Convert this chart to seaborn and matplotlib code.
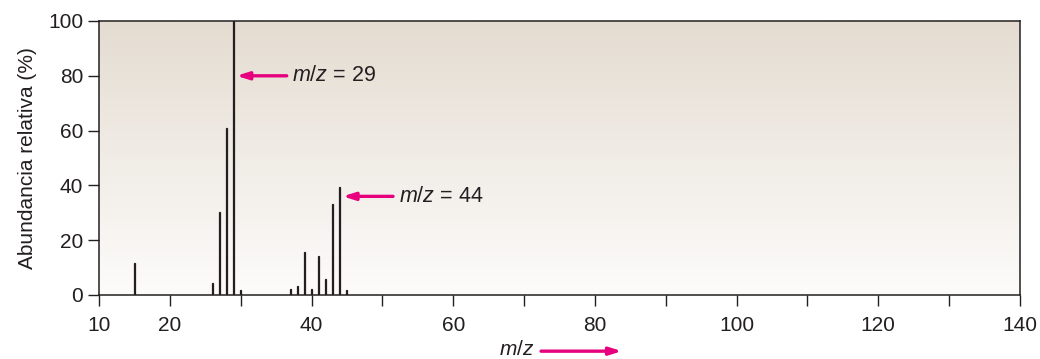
import numpy as np
import matplotlib
matplotlib.use("Agg")
import matplotlib.pyplot as plt
import seaborn as sns

# espectro de masas: m/z y abundancia relativa (%)
mz = [15, 26, 27, 28, 29, 30, 37, 38, 39, 40, 41, 42, 43, 44, 45]
abundance = [11.8, 4.5, 30.3, 60.8, 100, 1.8, 2.1, 3.3, 15.6, 2.1, 14.4, 5.7, 33.1, 39.5, 1.8]

major_ticks = [10, 20, 40, 60, 80, 100, 120, 140]
minor_ticks = [30, 50, 70, 90, 110, 130]
y_ticks = [0, 20, 40, 60, 80, 100]

# picos señalados con flecha: (m/z, altura de la flecha)
callouts = [(29, 80), (44, 36)]

ink = "#231f20"
magenta = "#e6007e"

sns.set_style("ticks")
plt.rcParams["font.family"] = ["Liberation Sans", "DejaVu Sans"]
plt.rcParams["mathtext.fontset"] = "custom"
plt.rcParams["mathtext.rm"] = "Liberation Sans"
plt.rcParams["mathtext.it"] = "Liberation Sans:italic"

fig = plt.figure(figsize=(10.4, 3.59), dpi=100)
ax = fig.add_axes([99 / 1040, 1 - 295 / 359, 921 / 1040, 274 / 359])

# fondo degradado beige -> blanco
grad = np.linspace(0, 1, 256).reshape(-1, 1)
cmap = matplotlib.colors.LinearSegmentedColormap.from_list("bg", ["#fdfcfb", "#e4dcd1"])
ax.imshow(grad, extent=[0, 1, 0, 1], transform=ax.transAxes, origin="lower",
          aspect="auto", cmap=cmap, zorder=0)

sns.barplot(x=mz, y=abundance, native_scale=True, width=0.15, color=ink,
            saturation=1, edgecolor=ink, linewidth=0.9, ax=ax, zorder=3)

ax.set_xlim(10, 140)
ax.set_ylim(0, 100)
ax.set_xticks(major_ticks)
ax.set_xticklabels([str(t) for t in major_ticks])
ax.set_xticks(minor_ticks, minor=True)
ax.set_yticks(y_ticks)

for side in ["top", "right", "left", "bottom"]:
    ax.spines[side].set_visible(True)
    ax.spines[side].set_color(ink)
    ax.spines[side].set_linewidth(1.1)
    ax.spines[side].set_zorder(5)

ax.tick_params(axis="both", which="both", direction="out", length=8, width=1,
               color=ink, labelcolor=ink, labelsize=15)
ax.tick_params(axis="x", pad=7)
ax.set_ylabel("Abundancia relativa (%)", fontsize=15, color=ink, labelpad=8)
ax.set_xlabel("")

for peak, yy in callouts:
    ax.annotate("", xy=(peak + 0.4, yy), xytext=(peak + 7.5, yy),
                arrowprops=dict(arrowstyle="-|>,head_length=0.7,head_width=0.22",
                                color=magenta, lw=2.4, shrinkA=0, shrinkB=0),
                zorder=6)
    ax.text(peak + 8.3, yy, "$m/z$ = %d" % peak, fontsize=15.5, color=ink,
            va="center", ha="left", zorder=6)

# etiqueta del eje x con flecha
ax.text(68.9, -0.2, "$m/z$", transform=ax.get_xaxis_transform(), fontsize=15,
        color=ink, ha="center", va="center", clip_on=False)
ax.annotate("", xy=(83.8, -0.205), xytext=(72.4, -0.205), xycoords=ax.get_xaxis_transform(),
            textcoords=ax.get_xaxis_transform(),
            arrowprops=dict(arrowstyle="-|>,head_length=0.7,head_width=0.22",
                            color=magenta, lw=2.4, shrinkA=0, shrinkB=0),
            annotation_clip=False)

fig.savefig("out.png", dpi=100)
